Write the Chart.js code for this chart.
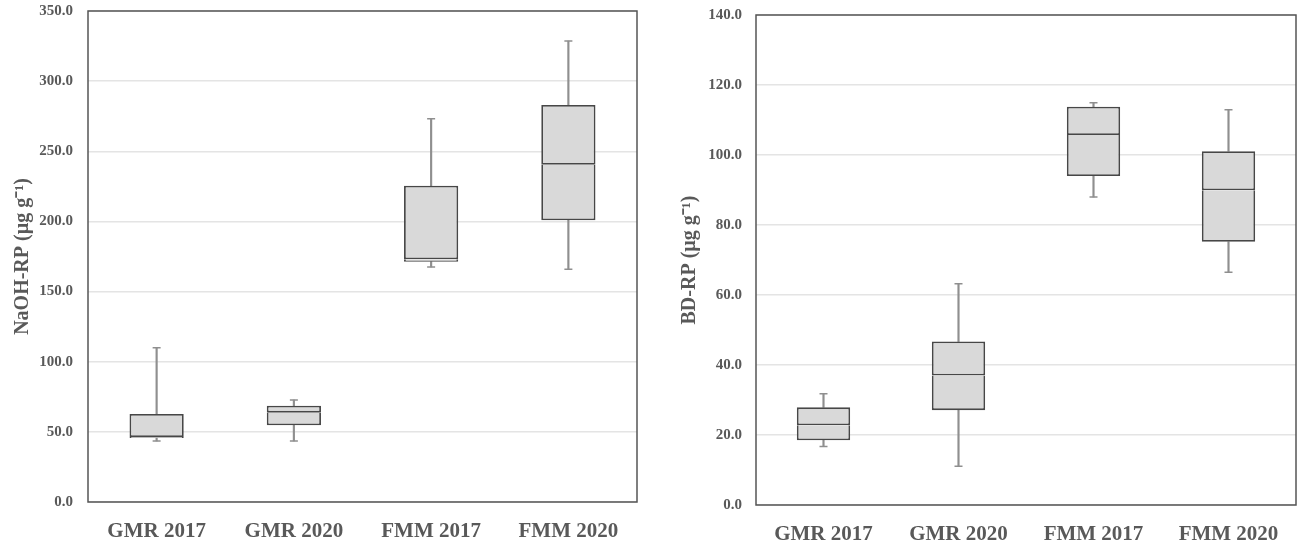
<!DOCTYPE html>
<html>
<head>
<meta charset="utf-8">
<script src="https://cdn.jsdelivr.net/npm/chart.js@4.4.1/dist/chart.umd.min.js"></script>
<style>
  body { margin: 0; background: #fff; }
  #wrap { position: relative; width: 1305px; height: 550px; }
  .panel { position: absolute; top: 0; width: 650px; height: 550px; }
</style>
</head>
<body>
<div id="wrap">
  <div class="panel" style="left:0"><canvas id="left" width="650" height="550"></canvas></div>
  <div class="panel" style="left:655px"><canvas id="right" width="650" height="550"></canvas></div>
</div>
<script>
// categories shared by both panels
const categories = ['GMR 2017', 'GMR 2020', 'FMM 2017', 'FMM 2020'];

// NaOH-RP box stats (ug/g)
const naohMin    = [43.5, 43.5, 167.5, 166.0];
const naohQ1     = [45.6, 54.7, 171.3, 200.8];
const naohMedian = [46.3, 63.7, 173.0, 240.4];
const naohQ3     = [62.7, 68.6, 225.5, 283.0];
const naohMax    = [110.0, 72.7, 273.2, 328.6];
const naohAxis   = [0, 350, 50];   // min, max, step

// BD-RP box stats (ug/g)
const bdMin    = [16.7, 11.1, 88.0, 66.5];
const bdQ1     = [18.5, 27.1, 94.0, 75.2];
const bdMedian = [22.8, 37.0, 105.7, 89.9];
const bdQ3     = [27.9, 46.7, 113.8, 101.1];
const bdMax    = [31.8, 63.2, 114.9, 112.9];
const bdAxis   = [0, 140, 20];

const grey = '#595959';
const serif = '"Liberation Serif", "Times New Roman", serif';

// frame around the plot area
const frame = {
  id: 'frame',
  afterDraw(chart) {
    const a = chart.chartArea, ctx = chart.ctx;
    ctx.save();
    ctx.strokeStyle = '#555';
    ctx.lineWidth = 1.5;
    ctx.strokeRect(a.left, a.top, a.right - a.left, a.bottom - a.top);
    ctx.restore();
  }
};

function pairs(a, b) { return a.map((v, i) => [v, b[i]]); }

function boxChart(id, stats, axis, title, lay) {
  const [mn, q1, med, q3, mx] = stats;
  const box = { type: 'bar', grouped: false, backgroundColor: '#d9d9d9', borderColor: '#474747',
                borderWidth: 1.8, borderSkipped: false, barPercentage: 0.395, categoryPercentage: 1 };
  const whisk = { type: 'bar', grouped: false, backgroundColor: '#8f8f8f', borderWidth: 0,
                  barThickness: 1.5, order: 2 };
  const cap = { type: 'line', showLine: false, pointStyle: 'line', pointRadius: 4,
                borderColor: '#8f8f8f', borderWidth: 1.5, order: 2 };
  new Chart(document.getElementById(id), {
    data: {
      labels: categories,
      datasets: [
        // lower half skips its top edge so the median is one line
        Object.assign({}, box, { data: pairs(q1, med), borderSkipped: 'top' }),
        Object.assign({ data: pairs(med, q3) }, box),
        Object.assign({ data: pairs(mn, q1) }, whisk),
        Object.assign({ data: pairs(q3, mx) }, whisk),
        Object.assign({ data: mx }, cap),
        Object.assign({ data: mn }, cap)
      ]
    },
    options: {
      responsive: false,
      animation: false,
      layout: { padding: { top: lay.top, right: lay.right, left: 0, bottom: 0 } },
      plugins: { legend: { display: false }, tooltip: { enabled: false } },
      scales: {
        x: {
          offset: true,
          grid: { display: false },
          border: { display: false },
          ticks: { color: grey, padding: 9, font: { family: serif, size: 21, weight: 'bold' } },
          afterFit(s) { s.height = lay.xh; s.paddingLeft = 0; s.paddingRight = 0; }
        },
        y: {
          min: axis[0], max: axis[1],
          grid: { color: '#e4e4e4', lineWidth: 1.5, drawTicks: false },
          border: { display: false },
          ticks: { stepSize: axis[2], color: grey, padding: lay.tp,
                   font: { family: serif, size: 15, weight: 'bold' },
                   callback: v => v.toFixed(1) },
          title: { display: true, text: title, color: grey, padding: { top: lay.tt },
                   font: { family: serif, size: 20, weight: 'bold' } },
          afterFit(s) { s.width = lay.yw; s.paddingTop = 0; s.paddingBottom = 0; }
        }
      }
    },
    plugins: [frame]
  });
}

boxChart('left', [naohMin, naohQ1, naohMedian, naohQ3, naohMax], naohAxis,
  'NaOH-RP (µg g⁻¹)', { top: 11, right: 13, xh: 48, yw: 88, tp: 15, tt: 11 });
boxChart('right', [bdMin, bdQ1, bdMedian, bdQ3, bdMax], bdAxis,
  'BD-RP (µg g⁻¹)', { top: 15, right: 9, xh: 45, yw: 101, tp: 14, tt: 23 });
</script>
</body>
</html>
